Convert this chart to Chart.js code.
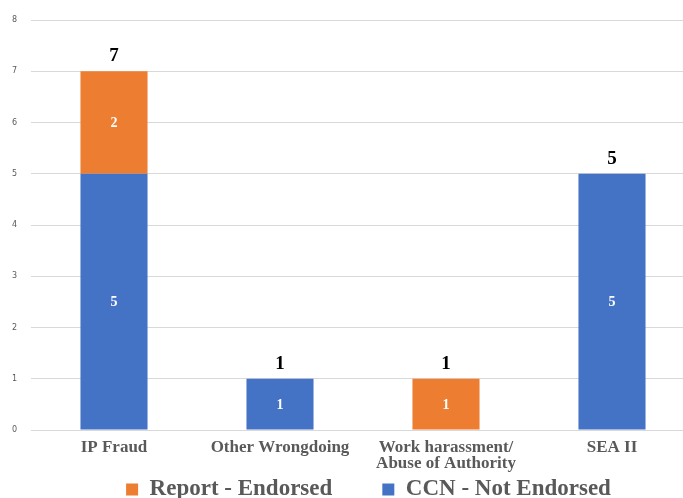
<!DOCTYPE html>
<html lang="en">
<head>
    <meta charset="UTF-8">
    <title>Cases by Category</title>
    <script src="https://cdn.jsdelivr.net/npm/chart.js"></script>
    <style>
        html, body { margin: 0; padding: 0; overflow: hidden; background: #fff; }
    </style>
</head>
<body>
    <canvas id="cases-chart" width="695" height="498"></canvas>

    <script>
        const categories = ['IP Fraud', 'Other Wrongdoing', ['Work harassment/', 'Abuse of Authority'], 'SEA II'];
        const notEndorsed = [5, 1, 0, 5];
        const endorsed = [2, 0, 1, 0];
        const yTicks = [0, 1, 2, 3, 4, 5, 6, 7, 8];

        const BLUE = '#4472C4';
        const ORANGE = '#ED7D31';
        const GREY = '#595959';

        // value labels inside each segment and totals on top of each stack
        const barLabels = {
            id: 'barLabels',
            afterDatasetsDraw(chart) {
                const ctx = chart.ctx;
                ctx.save();
                ctx.textAlign = 'center';
                ctx.textBaseline = 'middle';
                ctx.font = 'bold 14px "Liberation Serif"';
                ctx.fillStyle = '#ffffff';
                chart.data.datasets.forEach((ds, i) => {
                    const meta = chart.getDatasetMeta(i);
                    meta.data.forEach((bar, j) => {
                        if (!ds.data[j]) return;
                        ctx.fillText(ds.data[j], bar.x, (bar.y + bar.base) / 2 + 1);
                    });
                });

                ctx.font = 'bold 19px "Liberation Serif"';
                ctx.fillStyle = '#000000';
                categories.forEach((c, j) => {
                    let total = 0, top = null, x = null;
                    chart.data.datasets.forEach((ds, i) => {
                        const v = ds.data[j];
                        if (!v) return;
                        total += v;
                        const bar = chart.getDatasetMeta(i).data[j];
                        x = bar.x;
                        top = top === null ? bar.y : Math.min(top, bar.y);
                    });
                    if (top !== null) ctx.fillText(total, x, top - 15);
                });
                ctx.restore();
            },
            afterLayout(chart) {
                // nudge legend to sit where the original one is (legend clips to its box)
                const lg = chart.legend;
                lg.left += 21; lg.right += 21;
                lg.top -= 44;
            }
        };

        const ctx = document.getElementById('cases-chart').getContext('2d');
        const casesChart = new Chart(ctx, {
            type: 'bar',
            data: {
                labels: categories,
                datasets: [{
                    label: 'CCN - Not Endorsed',
                    data: notEndorsed,
                    backgroundColor: BLUE
                }, {
                    label: 'Report - Endorsed',
                    data: endorsed,
                    backgroundColor: ORANGE
                }]
            },
            options: {
                responsive: false,
                animation: false,
                devicePixelRatio: 1,
                layout: { padding: { top: 20, left: 0, right: 0, bottom: 0 } },
                datasets: {
                    bar: { barPercentage: 0.404, categoryPercentage: 1 }
                },
                scales: {
                    x: {
                        stacked: true,
                        grid: { display: false, drawTicks: false },
                        border: { color: '#d9d9d9' },
                        ticks: {
                            color: GREY,
                            padding: 10,
                            maxRotation: 0,
                            autoSkip: false,
                            font: { family: '"Liberation Serif"', size: 17, weight: 'bold', lineHeight: 0.94 }
                        },
                        afterFit: s => { s.height = 42; }
                    },
                    y: {
                        stacked: true,
                        min: yTicks[0],
                        max: yTicks[yTicks.length - 1],
                        grid: { color: '#d9d9d9', drawTicks: false },
                        border: { display: false },
                        ticks: {
                            stepSize: 1,
                            color: GREY,
                            padding: 14,
                            font: { family: '"DejaVu Sans"', size: 8 }
                        },
                        afterBuildTicks: s => { s.ticks = yTicks.map(v => ({ value: v })); },
                        afterFit: s => { s.width = 31; }
                    }
                },
                plugins: {
                    legend: {
                        position: 'bottom',
                        reverse: true,
                        maxHeight: 26,
                        labels: {
                            color: GREY,
                            boxWidth: 12,
                            boxHeight: 12,
                            padding: 50,
                            font: { family: '"Liberation Serif"', size: 23, weight: 'bold' }
                        }
                    },
                    tooltip: { enabled: false }
                }
            },
            plugins: [barLabels]
        });
    </script>
</body>
</html>
